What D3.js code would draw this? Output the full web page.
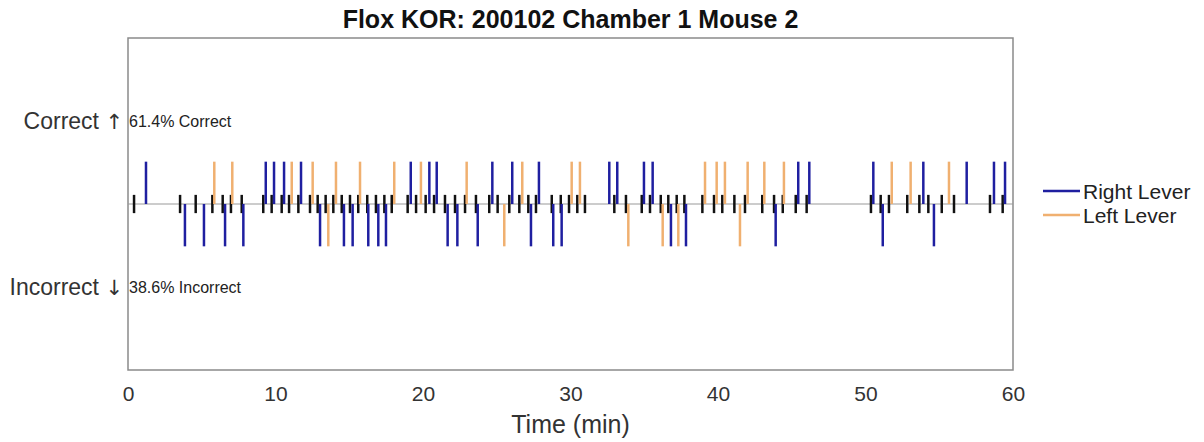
<!DOCTYPE html>
<html><head><meta charset="utf-8">
<script src="https://cdn.jsdelivr.net/npm/d3@7"></script>
<style>body{margin:0;background:#fff;}svg{display:block;font-family:Arial,"Liberation Sans",sans-serif;}</style>
</head><body>
<svg id="c" width="1204" height="442"></svg>
<script>
const title = "Flox KOR: 200102 Chamber 1 Mouse 2";
const xTicks = [0, 10, 20, 30, 40, 50, 60];
// trial start times (min)
const trialStarts = [0.41,3.53,4.59,5.72,6.42,6.98,7.71,9.17,9.74,10.42,10.92,11.55,12.34,12.86,13.40,13.92,14.49,15.05,15.61,16.22,16.81,17.38,17.88,18.96,19.53,20.18,20.75,21.49,22.17,22.85,23.59,24.49,25.06,25.85,26.53,27.14,27.66,28.73,29.34,29.90,30.46,30.98,32.97,33.76,34.83,35.39,36.12,36.63,37.20,37.72,38.94,39.73,40.29,41.11,41.83,43.00,43.80,44.39,45.27,46.01,50.37,51.03,51.59,52.83,53.65,54.26,55.17,56.00,58.44,59.30];
// responses (min)
const rightCorrect = [1.22,9.34,9.90,10.58,11.73,19.17,20.43,20.93,24.70,26.05,27.86,32.63,33.17,34.98,35.57,45.44,46.19,50.53,53.92,56.86,58.71,59.46];
const leftCorrect = [5.85,7.07,11.10,12.52,14.10,15.73,18.05,19.86,22.96,26.73,30.08,30.64,39.12,39.91,40.47,42.01,43.14,44.47,51.78,53.06,55.66];
const rightIncorrect = [3.86,5.15,6.58,7.82,13.02,14.64,15.23,16.29,16.97,17.49,21.67,22.33,23.71,27.32,28.83,29.40,36.81,37.83,43.91,51.17,54.64];
const leftIncorrect = [13.58,25.51,33.92,36.25,37.31,41.49];

const svg = d3.select("#c");
const L = 128, R = 1013, T = 38, B = 370;
const x = d3.scaleLinear().domain([0, 60]).range([L, R]);
const y = d3.scaleLinear().domain([-1, 1]).range([B, T]);
const blue = "#1f1fa0", orange = "#f0b070";

const nC = rightCorrect.length + leftCorrect.length;
const nI = rightIncorrect.length + leftIncorrect.length;
const pC = (100 * nC / (nC + nI)).toFixed(1), pI = (100 * nI / (nC + nI)).toFixed(1);

// frame
svg.append("rect").attr("x", L).attr("y", T).attr("width", R - L).attr("height", B - T)
  .attr("fill", "none").attr("stroke", "#8a8a8a").attr("stroke-width", 1.5);
// baseline
svg.append("line").attr("x1", L).attr("x2", R).attr("y1", y(0)).attr("y2", y(0))
  .attr("stroke", "#999").attr("stroke-width", 1);

function ticks(data, y1, y2, color) {
  svg.append("g").selectAll("line").data(data).join("line")
    .attr("x1", d => x(d)).attr("x2", d => x(d))
    .attr("y1", y(y1)).attr("y2", y(y2))
    .attr("stroke", color).attr("stroke-width", 2.5);
}
ticks(trialStarts, -0.055, 0.055, "#111");
ticks(rightCorrect, 0, 0.255, blue);
ticks(leftCorrect, 0, 0.255, orange);
ticks(rightIncorrect, 0, -0.255, blue);
ticks(leftIncorrect, 0, -0.255, orange);

// x axis
const ax = svg.append("g").attr("transform", `translate(0,${B})`)
  .call(d3.axisBottom(x).tickValues(xTicks).tickSize(0).tickPadding(16));
ax.select(".domain").remove();
ax.selectAll("text").attr("font-size", 21).attr("fill", "#333").attr("font-family", "Arial,'Liberation Sans',sans-serif");
svg.append("text").attr("x", x(30)).attr("y", 433).attr("text-anchor", "middle")
  .attr("font-size", 25).attr("fill", "#333").text("Time (min)");

// title
svg.append("text").attr("x", x(30)).attr("y", 28).attr("text-anchor", "middle")
  .attr("font-size", 25).attr("font-weight", "bold").attr("fill", "#111").text(title);

// y labels
function yLabel(label, arrow, yy) {
  const t = svg.append("text").attr("x", 123).attr("y", yy).attr("text-anchor", "end")
    .attr("font-size", 23).attr("fill", "#333");
  t.append("tspan").text(label + " ");
  t.append("tspan").attr("font-family", "'DejaVu Sans'").attr("font-size", 21).attr("fill", "#333").text(arrow);
}
yLabel("Correct", "\u2191", y(0.5) + 8);
yLabel("Incorrect", "\u2193", y(-0.5) + 8);
svg.append("text").attr("x", 129).attr("y", y(0.5) + 6).attr("font-size", 16).attr("fill", "#222").text(pC + "% Correct");
svg.append("text").attr("x", 129).attr("y", y(-0.5) + 6).attr("font-size", 16).attr("fill", "#222").text(pI + "% Incorrect");

// legend
const leg = [["Right Lever", blue], ["Left Lever", orange]];
leg.forEach((d, i) => {
  const yy = 191 + i * 24;
  svg.append("line").attr("x1", 1043).attr("x2", 1080).attr("y1", yy).attr("y2", yy)
    .attr("stroke", d[1]).attr("stroke-width", 2.5);
  svg.append("text").attr("x", 1083).attr("y", yy + 8).attr("font-size", 21).attr("fill", "#222").text(d[0]);
});
</script>
</body></html>
